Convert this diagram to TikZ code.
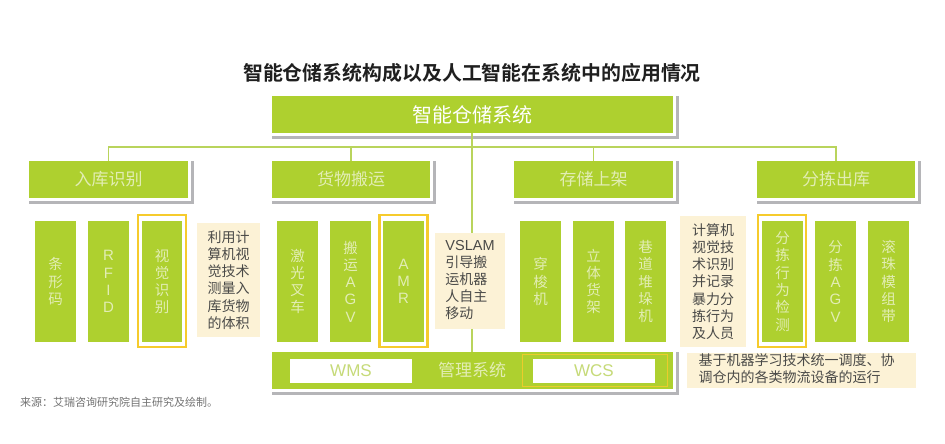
\documentclass[tikz,border=0pt]{standalone}
\usepackage{fontspec}
\newfontfamily\cjk{Noto Sans CJK SC}
\newfontfamily\cjkb{Noto Sans CJK SC Bold}
\newfontfamily\lat{Liberation Sans}
\definecolor{leaf}{HTML}{AED02F}
\definecolor{edgeline}{HTML}{B9D45C}
\definecolor{shadowgrey}{HTML}{B5B5B8}
\definecolor{cream}{HTML}{FCF2D6}
\definecolor{gold}{HTML}{F6CB2C}
\definecolor{paletext}{HTML}{E2EDB4}
\definecolor{inktext}{HTML}{4A4A48}
\definecolor{softgreen}{HTML}{C6DA78}
\tikzset{
  box/.style={inner sep=0pt,outer sep=0pt,align=center},
  leafbox/.style={box,fill=leaf,text=paletext,font={\cjk\fontsize{14.5}{17.3}\selectfont}},
  headbox/.style={box,fill=leaf,text=paletext,font={\cjk\fontsize{17}{20}\selectfont}},
  rootbox/.style={box,fill=leaf,text=white,font={\cjk\fontsize{20}{24}\selectfont}},
  notebox/.style={box,fill=cream,text=inktext,font={\cjk\fontsize{14}{17.2}\selectfont}},
  whitebox/.style={box,fill=white,text=softgreen,font={\lat\fontsize{17}{20}\selectfont}},
  glow/.style={draw=gold,line width=2.2pt,fill=none},
  thinglow/.style={draw=gold!85!leaf,line width=0.8pt,fill=none},
  link/.style={draw=edgeline,line width=1.4pt},
  trunkline/.style={draw=edgeline,line width=1.8pt},
}
% \place{style}{name}{x0}{y0}{x1}{y1}{text}
\newcommand{\place}[7]{%
  \node[#1,minimum width={(#5-#3)*1pt},minimum height={(#6-#4)*1pt}] (#2) at ({(#3+#5)/2},{(#4+#6)/2}) {#7};}
\newcommand{\lifted}[6]{%
  \fill[shadowgrey] (#2,#3+0) rectangle (#4+5.5,#5+6);
  \fill[white] (#2,#3-1) rectangle (#4+2.5,#5+2.5);
  \place{#6}{#1}{#2}{#3}{#4}{#5}}
\newcommand{\latin}[1]{{\lat\fontsize{15}{17.3}\selectfont #1}}
\begin{document}
\begin{tikzpicture}[x=1pt,y=-1pt]
\useasboundingbox (0,0) rectangle (945,444);
\fill[white] (0,0) rectangle (945,444);
\node[box,text=black!88,font={\cjkb\fontsize{19.9}{23}\selectfont}] (title) at (472,73) {智能仓储系统构成以及人工智能在系统中的应用情况};

\lifted{root}{272}{96}{673}{133}{rootbox}{智能仓储系统}
\lifted{inb}{29}{161}{188}{198}{headbox}{入库识别}
\lifted{mov}{272}{161}{430}{198}{headbox}{货物搬运}
\lifted{sto}{514}{161}{673}{198}{headbox}{存储上架}
\lifted{out}{757}{161}{915}{198}{headbox}{分拣出库}

\place{leafbox}{a1}{35}{221}{76}{342}{条\\形\\码}
\place{leafbox}{a2}{88}{221}{129}{342}{\latin{R}\\\latin{F}\\\latin{I}\\\latin{D}}
\place{leafbox}{a3}{142}{221}{182}{342}{视\\觉\\识\\别}
\place{notebox}{na}{197}{223}{260}{337}{利用计\\算机视\\觉技术\\测量入\\库货物\\的体积}

\place{leafbox}{b1}{277}{221}{318}{342}{激\\光\\叉\\车}
\place{leafbox}{b2}{330}{221}{371}{342}{搬\\运\\\latin{A}\\\latin{G}\\\latin{V}}
\place{leafbox}{b3}{383}{221}{424}{342}{\latin{A}\\\latin{M}\\\latin{R}}
\place{notebox}{nb}{435}{233}{505}{329}{\begin{tabular}{@{}l@{}}{\lat\fontsize{14.5}{17.2}\selectfont VSLAM}\\引导搬\\运机器\\人自主\\移动\end{tabular}}

\place{leafbox}{c1}{520}{221}{561}{342}{穿\\梭\\机}
\place{leafbox}{c2}{573}{221}{614}{342}{立\\体\\货\\架}
\place{leafbox}{c3}{625}{221}{666}{342}{巷\\道\\堆\\垛\\机}
\place{notebox}{nc}{680}{216}{746}{347}{计算机\\视觉技\\术识别\\并记录\\暴力分\\拣行为\\及人员}

\place{leafbox}{d1}{762}{221}{803}{342}{分\\拣\\行\\为\\检\\测}
\place{leafbox}{d2}{815}{221}{856}{342}{分\\拣\\\latin{A}\\\latin{G}\\\latin{V}}
\place{leafbox}{d3}{868}{221}{909}{342}{滚\\珠\\模\\组\\带}

\draw[glow] (138,215) rectangle (186,347);
\draw[glow] (379.5,215) rectangle (427.5,347);
\draw[glow] (758,215) rectangle (806,347);

\lifted{sys}{272}{352}{673}{389}{headbox}{\hspace*{-1pt}管理系统}
\place{whitebox}{wms}{290}{359}{412}{383}{WMS}
\place{whitebox}{wcs}{533}{359}{655}{383}{WCS}
\draw[thinglow] (522,354) rectangle (667,386);
\place{notebox}{nd}{687}{353}{916}{388}{\begin{tabular}{@{}l@{}}基于机器学习技术统一调度、协\\调仓内的各类物流设备的运行\end{tabular}\hspace*{10pt}}

\node[box,anchor=west,text=black!55,font={\cjk\fontsize{11}{13}\selectfont}] (src) at (20,402.5) {来源：艾瑞咨询研究院自主研究及绘制。};

\coordinate (bus) at (472,147);
\draw[link] (inb.north) |- (bus);
\draw[link] (mov.north) |- (bus);
\draw[link] (sto.north) |- (bus);
\draw[link] (out.north) |- (bus);
\draw[trunkline] (root.south -| bus) -- (nb.north -| bus);
\draw[trunkline] (nb.south -| bus) -- (sys.north -| bus);
\end{tikzpicture}
\end{document}
